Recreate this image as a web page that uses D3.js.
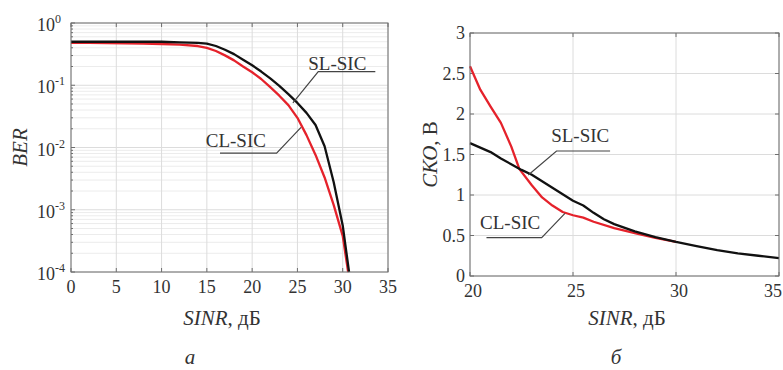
<!DOCTYPE html>
<html lang="ru">
<head>
<meta charset="UTF-8" />
<title>BER и СКО от SINR</title>
<script src="https://d3js.org/d3.v7.min.js"></script>
<style>
  body { margin: 0; background: #fff; }
  svg { display: block; font-family: "Liberation Serif", "Times New Roman", serif; }
  .frame { fill: none; stroke: #6e6e6e; stroke-width: 1; }
  .grid-major { stroke: #dcdcdc; stroke-width: 1; }
  .grid-minor { stroke: #ececec; stroke-width: 1; }
  .tick { stroke: #6e6e6e; stroke-width: 1; }
  .lbl { font-size: 18px; fill: #333; }
  .ann { font-size: 19px; fill: #333; }
  .leader { fill: none; stroke: #444; stroke-width: 1.2; }
  .curve { fill: none; stroke-width: 2.3; stroke-linejoin: round; }
</style>
</head>
<body>
<svg width="783" height="370"></svg>
<script>
// ---- data: panel a (BER vs SINR, dB) ----
const berSinr = [0, 2, 4, 6, 8, 10, 12, 14, 15, 16, 17, 18, 19, 20, 21, 22, 23, 24, 25, 26, 27, 28, 29, 30, 30.7];
const berSL = [0.50, 0.50, 0.50, 0.50, 0.50, 0.50, 0.49, 0.48, 0.468, 0.427, 0.372, 0.316, 0.257, 0.209, 0.166, 0.129, 0.098, 0.072, 0.052, 0.036, 0.023, 0.0105, 0.0028, 0.00056, 0.0001];
const berClSinr = [0, 2, 4, 6, 8, 10, 12, 14, 15, 16, 17, 18, 19, 20, 21, 22, 23, 24, 25, 26, 27, 28, 29, 30, 30.6];
const berCL = [0.48, 0.48, 0.475, 0.47, 0.465, 0.46, 0.45, 0.427, 0.398, 0.355, 0.302, 0.251, 0.20, 0.162, 0.126, 0.093, 0.068, 0.048, 0.030, 0.0158, 0.0076, 0.0033, 0.0012, 0.00038, 0.0001];

// ---- data: panel б (СКО, В vs SINR, dB) ----
const rmsSinrSL = [20, 21, 21.5, 22, 22.5, 23, 24, 25, 25.5, 26, 26.5, 27, 28, 29, 30, 31, 32, 33, 34, 35];
const rmsSL = [1.64, 1.53, 1.45, 1.38, 1.31, 1.25, 1.09, 0.93, 0.87, 0.78, 0.70, 0.64, 0.55, 0.48, 0.42, 0.37, 0.32, 0.28, 0.25, 0.22];
const rmsSinrCL = [20, 20.5, 21, 21.5, 22, 22.4, 23, 23.5, 24, 24.5, 25, 25.5, 26, 27, 28, 29, 30];
const rmsCL = [2.59, 2.30, 2.09, 1.89, 1.60, 1.32, 1.12, 0.97, 0.87, 0.79, 0.75, 0.72, 0.67, 0.59, 0.53, 0.47, 0.42];

// tick labels
const berXTicks = [0, 5, 10, 15, 20, 25, 30, 35];
const berYExp = [0, -1, -2, -3, -4];
const rmsXTicks = [20, 25, 30, 35];
const rmsYTicks = [0, 0.5, 1, 1.5, 2, 2.5, 3];

// annotation anchors in data units: [sinr, value]
const annBer = [
  { text: "SL-SIC", at: [29.4, 0.176], leader: [[33.6, 0.165], [27.3, 0.165], [24.5, 0.052]] },
  { text: "CL-SIC", at: [18.2, 0.0102], leader: [[16.45, 0.0081], [22.7, 0.0081], [25.4, 0.021]] }
];
const annRms = [
  { text: "SL-SIC", at: [25.35, 1.65], leader: [[26.8, 1.543], [24.2, 1.543], [22.83, 1.247]] },
  { text: "CL-SIC", at: [21.95, 0.58], leader: [[20.8, 0.473], [23.48, 0.473], [24.61, 0.774]] }
];

const red = "#e5222b";
const black = "#111";

const svg = d3.select("svg");

// ---------- panel a ----------
const xa = d3.scaleLinear().domain([0, 35]).range([71, 388]);
const ya = d3.scaleLog().domain([1e-4, 1]).range([272, 23]);

const ga = svg.append("g");
// minor log grid
const minorVals = [];
berYExp.slice(1).forEach(e => { for (let k = 2; k <= 9; k++) minorVals.push(k * Math.pow(10, e)); });
ga.selectAll(".gmin").data(minorVals).join("line")
  .attr("class", "grid-minor")
  .attr("x1", xa(0)).attr("x2", xa(35))
  .attr("y1", d => ya(d)).attr("y2", d => ya(d));
ga.selectAll(".gy").data(berYExp).join("line")
  .attr("class", "grid-major")
  .attr("x1", xa(0)).attr("x2", xa(35))
  .attr("y1", d => ya(Math.pow(10, d))).attr("y2", d => ya(Math.pow(10, d)));
ga.selectAll(".gx").data(berXTicks).join("line")
  .attr("class", "grid-major")
  .attr("x1", d => xa(d)).attr("x2", d => xa(d))
  .attr("y1", ya(1)).attr("y2", ya(1e-4));

// inside tick marks
ga.selectAll(".txb").data(berXTicks).join("line").attr("class", "tick")
  .attr("x1", d => xa(d)).attr("x2", d => xa(d)).attr("y1", ya(1e-4)).attr("y2", ya(1e-4) - 4);
ga.selectAll(".txt").data(berXTicks).join("line").attr("class", "tick")
  .attr("x1", d => xa(d)).attr("x2", d => xa(d)).attr("y1", ya(1)).attr("y2", ya(1) + 4);
ga.selectAll(".tyl").data(minorVals).join("line").attr("class", "tick")
  .attr("x1", xa(0)).attr("x2", xa(0) + 2).attr("y1", d => ya(d)).attr("y2", d => ya(d));
ga.selectAll(".tylm").data(berYExp).join("line").attr("class", "tick")
  .attr("x1", xa(0)).attr("x2", xa(0) + 4).attr("y1", d => ya(Math.pow(10, d))).attr("y2", d => ya(Math.pow(10, d)));

const lineA = d3.line().x(d => xa(d[0])).y(d => ya(d[1]));
ga.append("path").attr("class", "curve").attr("stroke", red)
  .attr("d", lineA(d3.zip(berClSinr, berCL)));
ga.append("path").attr("class", "curve").attr("stroke", black)
  .attr("d", lineA(d3.zip(berSinr, berSL)));

ga.append("rect").attr("class", "frame")
  .attr("x", xa(0)).attr("y", ya(1))
  .attr("width", xa(35) - xa(0)).attr("height", ya(1e-4) - ya(1));

// tick labels
ga.selectAll(".xl").data(berXTicks).join("text").attr("class", "lbl")
  .attr("x", d => xa(d)).attr("y", ya(1e-4) + 21)
  .attr("text-anchor", "middle").text(d => d);
const yl = ga.selectAll(".yl").data(berYExp).join("text").attr("class", "lbl")
  .attr("x", xa(0) - 34).attr("y", d => ya(Math.pow(10, d)) + 8);
yl.append("tspan").text("10");
yl.append("tspan").attr("dy", -8).style("font-size", "12px").text(d => d === 0 ? "0" : "-" + Math.abs(d));

// axis titles
ga.append("text").attr("transform", `translate(27,${(ya(1) + ya(1e-4)) / 2}) rotate(-90)`)
  .attr("text-anchor", "middle").style("font-size", "21px").style("font-style", "italic").attr("fill", "#333")
  .text("BER");
const xt = ga.append("text").attr("x", 222).attr("y", 325).attr("text-anchor", "middle")
  .style("font-size", "21px").attr("fill", "#333");
xt.append("tspan").style("font-style", "italic").text("SINR");
xt.append("tspan").text(", дБ");
ga.append("text").attr("x", 190).attr("y", 364).attr("text-anchor", "middle")
  .style("font-size", "21px").style("font-style", "italic").attr("fill", "#333").text("а");

annBer.forEach(a => {
  ga.append("path").attr("class", "leader").attr("d", lineA(a.leader));
  ga.append("text").attr("class", "ann").attr("x", xa(a.at[0])).attr("y", ya(a.at[1]))
    .attr("text-anchor", "middle").text(a.text);
});

// ---------- panel б ----------
const xb = d3.scaleLinear().domain([20, 35]).range([470, 779]);
const yb = d3.scaleLinear().domain([0, 3]).range([276, 33]);
const gb = svg.append("g");

gb.selectAll(".gy").data(rmsYTicks).join("line").attr("class", "grid-major")
  .attr("x1", xb(20)).attr("x2", xb(35)).attr("y1", d => yb(d)).attr("y2", d => yb(d));
gb.selectAll(".gx").data(rmsXTicks).join("line").attr("class", "grid-major")
  .attr("x1", d => xb(d)).attr("x2", d => xb(d)).attr("y1", yb(0)).attr("y2", yb(3));

gb.selectAll(".txb").data(rmsXTicks).join("line").attr("class", "tick")
  .attr("x1", d => xb(d)).attr("x2", d => xb(d)).attr("y1", yb(0)).attr("y2", yb(0) - 4);
gb.selectAll(".txt").data(rmsXTicks).join("line").attr("class", "tick")
  .attr("x1", d => xb(d)).attr("x2", d => xb(d)).attr("y1", yb(3)).attr("y2", yb(3) + 4);
gb.selectAll(".tyl").data(rmsYTicks).join("line").attr("class", "tick")
  .attr("x1", xb(20)).attr("x2", xb(20) + 4).attr("y1", d => yb(d)).attr("y2", d => yb(d));
gb.selectAll(".tyr").data(rmsYTicks).join("line").attr("class", "tick")
  .attr("x1", xb(35)).attr("x2", xb(35) - 4).attr("y1", d => yb(d)).attr("y2", d => yb(d));

const lineB = d3.line().x(d => xb(d[0])).y(d => yb(d[1]));
gb.append("path").attr("class", "curve").attr("stroke", red)
  .attr("d", lineB(d3.zip(rmsSinrCL, rmsCL)));
gb.append("path").attr("class", "curve").attr("stroke", black)
  .attr("d", lineB(d3.zip(rmsSinrSL, rmsSL)));

gb.append("rect").attr("class", "frame")
  .attr("x", xb(20)).attr("y", yb(3))
  .attr("width", xb(35) - xb(20)).attr("height", yb(0) - yb(3));

// last label is pulled inside the page edge
gb.selectAll(".xl").data(rmsXTicks).join("text").attr("class", "lbl")
  .attr("x", d => d === 35 ? 782 : xb(d) + 3).attr("y", yb(0) + 21)
  .attr("text-anchor", d => d === 35 ? "end" : "middle").text(d => d);
gb.selectAll(".yl").data(rmsYTicks).join("text").attr("class", "lbl")
  .attr("x", xb(20) - 5).attr("y", d => yb(d) + 6)
  .attr("text-anchor", "end").text(d => d);

const yt = gb.append("text").attr("transform", `translate(437,${(yb(0) + yb(3)) / 2}) rotate(-90)`)
  .attr("text-anchor", "middle").style("font-size", "21px").attr("fill", "#333");
yt.append("tspan").style("font-style", "italic").text("СКО");
yt.append("tspan").text(", В");
const xt2 = gb.append("text").attr("x", 627).attr("y", 325).attr("text-anchor", "middle")
  .style("font-size", "21px").attr("fill", "#333");
xt2.append("tspan").style("font-style", "italic").text("SINR");
xt2.append("tspan").text(", дБ");
gb.append("text").attr("x", 616).attr("y", 364).attr("text-anchor", "middle")
  .style("font-size", "21px").style("font-style", "italic").attr("fill", "#333").text("б");

annRms.forEach(a => {
  gb.append("path").attr("class", "leader").attr("d", lineB(a.leader));
  gb.append("text").attr("class", "ann").attr("x", xb(a.at[0])).attr("y", yb(a.at[1]))
    .attr("text-anchor", "middle").text(a.text);
});
</script>
</body>
</html>
